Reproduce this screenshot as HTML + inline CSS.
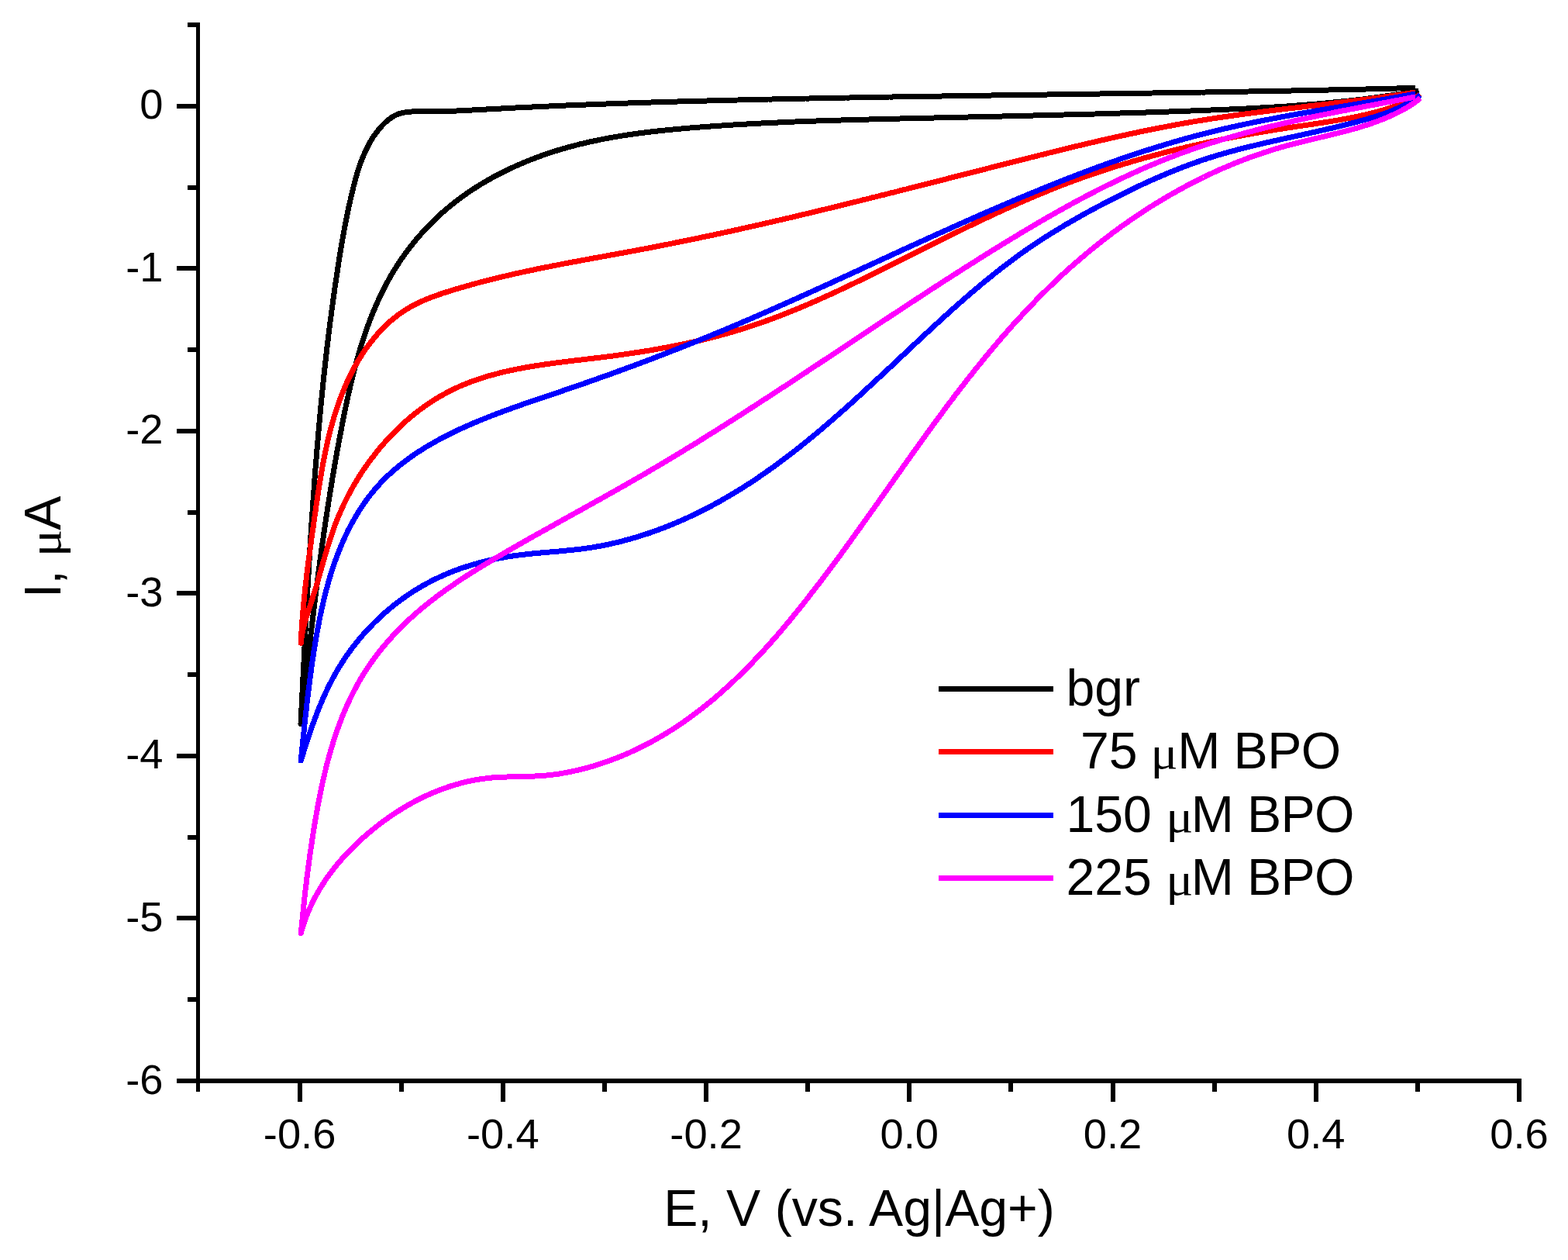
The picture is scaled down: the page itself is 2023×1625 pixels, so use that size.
<!DOCTYPE html>
<html lang="en"><head><meta charset="utf-8"><title>Cyclic voltammograms</title>
<style>
html,body{margin:0;padding:0;background:#fff;}
body{width:2023px;height:1625px;overflow:hidden;}
svg{display:block;}
text{font-family:"Liberation Sans",sans-serif;fill:#000;}
.mu{font-family:"Liberation Serif","DejaVu Serif",serif;}
.tk{font-size:54.3px;}
.tt{font-size:66.2px;}
.lg{font-size:66.2px;}
</style></head><body>
<svg width="2023" height="1625" viewBox="0 0 2023 1625">
<rect width="2023" height="1625" fill="#ffffff"/>

<g fill="none" stroke-linejoin="round" stroke-linecap="butt" shape-rendering="crispEdges">
<path d="M1826.1,113.4 L1822.1,113.5 L1818.1,113.6 L1814.1,113.7 L1810.1,113.8 L1806.1,113.9 L1802.1,114.0 L1798.2,114.1 L1794.2,114.2 L1790.2,114.3 L1786.2,114.4 L1782.2,114.5 L1778.2,114.6 L1774.2,114.7 L1770.2,114.8 L1766.2,114.9 L1762.2,115.0 L1758.2,115.1 L1754.2,115.2 L1750.3,115.2 L1746.3,115.3 L1742.3,115.4 L1738.3,115.5 L1734.3,115.6 L1730.3,115.7 L1726.3,115.8 L1722.3,115.9 L1718.3,115.9 L1714.3,116.0 L1710.3,116.1 L1706.3,116.2 L1702.4,116.3 L1698.4,116.4 L1694.4,116.4 L1690.4,116.5 L1686.4,116.6 L1682.4,116.7 L1678.4,116.8 L1674.4,116.8 L1670.4,116.9 L1666.4,117.0 L1662.4,117.1 L1658.4,117.1 L1654.5,117.2 L1650.5,117.3 L1646.5,117.4 L1642.5,117.4 L1638.5,117.5 L1634.5,117.6 L1630.5,117.7 L1626.5,117.7 L1622.5,117.8 L1618.5,117.9 L1614.5,117.9 L1610.6,118.0 L1606.6,118.1 L1602.6,118.2 L1598.6,118.2 L1594.6,118.3 L1590.6,118.4 L1586.6,118.4 L1582.6,118.5 L1578.6,118.6 L1574.6,118.6 L1570.6,118.7 L1566.6,118.8 L1562.7,118.8 L1558.7,118.9 L1554.7,119.0 L1550.7,119.0 L1546.7,119.1 L1542.7,119.1 L1538.7,119.2 L1534.7,119.3 L1530.7,119.3 L1526.7,119.4 L1522.7,119.5 L1518.7,119.5 L1514.8,119.6 L1510.8,119.6 L1506.8,119.7 L1502.8,119.8 L1498.8,119.8 L1494.8,119.9 L1490.8,119.9 L1486.8,120.0 L1482.8,120.1 L1478.8,120.1 L1474.8,120.2 L1470.8,120.2 L1466.9,120.3 L1462.9,120.4 L1458.9,120.4 L1454.9,120.5 L1450.9,120.5 L1446.9,120.6 L1442.9,120.7 L1438.9,120.7 L1434.9,120.8 L1430.9,120.8 L1426.9,120.9 L1422.9,120.9 L1419.0,121.0 L1415.0,121.1 L1411.0,121.1 L1407.0,121.2 L1403.0,121.2 L1399.0,121.3 L1395.0,121.3 L1391.0,121.4 L1387.0,121.5 L1383.0,121.5 L1379.0,121.6 L1375.0,121.6 L1371.1,121.7 L1367.1,121.7 L1363.1,121.8 L1359.1,121.9 L1355.1,121.9 L1351.1,122.0 L1347.1,122.0 L1343.1,122.1 L1339.1,122.1 L1335.1,122.2 L1331.1,122.2 L1327.1,122.3 L1323.2,122.4 L1319.2,122.4 L1315.2,122.5 L1311.2,122.5 L1307.2,122.6 L1303.2,122.6 L1299.2,122.7 L1295.2,122.8 L1291.2,122.8 L1287.2,122.9 L1283.2,122.9 L1279.2,123.0 L1275.3,123.1 L1271.3,123.1 L1267.3,123.2 L1263.3,123.2 L1259.3,123.3 L1255.3,123.3 L1251.3,123.4 L1247.3,123.5 L1243.3,123.5 L1239.3,123.6 L1235.3,123.6 L1231.3,123.7 L1227.4,123.8 L1223.4,123.8 L1219.4,123.9 L1215.4,124.0 L1211.4,124.0 L1207.4,124.1 L1203.4,124.1 L1199.4,124.2 L1195.4,124.3 L1191.4,124.3 L1187.4,124.4 L1183.4,124.5 L1179.4,124.5 L1175.5,124.6 L1171.5,124.7 L1167.5,124.7 L1163.5,124.8 L1159.5,124.8 L1155.5,124.9 L1151.5,125.0 L1147.5,125.0 L1143.5,125.1 L1139.5,125.2 L1135.5,125.3 L1131.5,125.3 L1127.6,125.4 L1123.6,125.5 L1119.6,125.5 L1115.6,125.6 L1111.6,125.7 L1107.6,125.7 L1103.6,125.8 L1099.6,125.9 L1095.6,126.0 L1091.6,126.0 L1087.6,126.1 L1083.6,126.2 L1079.6,126.3 L1075.7,126.3 L1071.7,126.4 L1067.7,126.5 L1063.7,126.6 L1059.7,126.6 L1055.7,126.7 L1051.7,126.8 L1047.7,126.9 L1043.7,127.0 L1039.7,127.0 L1035.7,127.1 L1031.7,127.2 L1027.7,127.3 L1023.8,127.4 L1019.8,127.4 L1015.8,127.5 L1011.8,127.6 L1007.8,127.7 L1003.8,127.8 L999.8,127.9 L995.8,128.0 L991.8,128.0 L987.8,128.1 L983.8,128.2 L979.8,128.3 L975.8,128.4 L971.9,128.5 L967.9,128.6 L963.9,128.7 L959.9,128.8 L955.9,128.9 L951.9,129.0 L947.9,129.1 L943.9,129.2 L939.9,129.2 L935.9,129.3 L931.9,129.4 L927.9,129.5 L923.9,129.6 L920.0,129.7 L916.0,129.9 L912.0,130.0 L908.0,130.1 L904.0,130.2 L900.0,130.3 L896.0,130.4 L892.0,130.5 L888.0,130.6 L884.0,130.7 L880.0,130.8 L876.0,130.9 L872.0,131.1 L868.1,131.2 L864.1,131.3 L860.1,131.4 L856.1,131.5 L852.1,131.6 L848.1,131.8 L844.1,131.9 L840.1,132.0 L836.1,132.1 L832.1,132.3 L828.1,132.4 L824.2,132.5 L820.2,132.7 L816.2,132.8 L812.2,132.9 L808.2,133.1 L804.2,133.2 L800.2,133.3 L796.2,133.5 L792.2,133.6 L788.3,133.8 L784.3,133.9 L780.3,134.1 L776.3,134.2 L772.3,134.3 L768.3,134.5 L764.3,134.7 L760.3,134.8 L756.4,135.0 L752.4,135.1 L748.4,135.3 L744.4,135.4 L740.4,135.6 L736.4,135.8 L732.4,135.9 L728.4,136.1 L724.5,136.3 L720.5,136.4 L716.5,136.6 L712.5,136.8 L708.5,137.0 L704.5,137.1 L700.6,137.3 L696.6,137.5 L692.6,137.7 L688.6,137.9 L684.6,138.1 L680.6,138.3 L676.7,138.5 L672.7,138.7 L668.7,138.8 L664.7,139.0 L660.7,139.2 L656.7,139.5 L652.8,139.7 L648.8,139.9 L644.8,140.1 L640.8,140.3 L636.8,140.5 L632.9,140.7 L628.9,140.9 L624.9,141.2 L620.9,141.4 L616.9,141.6 L613.0,141.8 L609.0,142.0 L605.0,142.2 L601.0,142.4 L597.0,142.6 L593.0,142.8 L589.1,143.0 L585.1,143.2 L581.1,143.3 L577.1,143.5 L573.1,143.6 L569.1,143.7 L565.0,143.8 L561.0,143.8 L557.0,143.9 L553.0,143.9 L549.0,143.9 L544.9,143.9 L540.9,143.8 L536.9,143.8 L532.9,143.9 L528.9,144.1 L525.0,144.5 L521.2,145.1 L517.4,146.0 L513.7,147.1 L510.2,148.6 L506.8,150.5 L503.5,152.7 L500.3,155.1 L497.2,157.8 L494.3,160.7 L491.5,163.6 L488.9,166.7 L486.4,169.9 L484.0,173.1 L481.7,176.4 L479.5,179.9 L477.5,183.3 L475.5,186.8 L473.7,190.4 L471.9,194.0 L470.3,197.7 L468.7,201.3 L467.2,205.0 L465.8,208.7 L464.4,212.5 L463.1,216.2 L461.9,220.0 L460.7,223.8 L459.6,227.6 L458.5,231.4 L457.5,235.3 L456.5,239.1 L455.5,243.0 L454.6,246.9 L453.7,250.7 L452.8,254.6 L451.9,258.5 L451.0,262.4 L450.1,266.3 L449.3,270.2 L448.5,274.1 L447.7,278.0 L446.9,281.9 L446.1,285.8 L445.4,289.7 L444.6,293.6 L443.9,297.6 L443.2,301.5 L442.5,305.4 L441.8,309.3 L441.1,313.3 L440.4,317.2 L439.8,321.2 L439.1,325.1 L438.5,329.0 L437.8,333.0 L437.2,336.9 L436.6,340.9 L436.0,344.8 L435.4,348.8 L434.8,352.7 L434.2,356.7 L433.6,360.6 L433.0,364.6 L432.4,368.5 L431.8,372.5 L431.3,376.5 L430.7,380.4 L430.2,384.4 L429.6,388.3 L429.1,392.3 L428.5,396.2 L428.0,400.2 L427.5,404.2 L427.0,408.1 L426.4,412.1 L425.9,416.0 L425.4,420.0 L424.9,424.0 L424.4,427.9 L423.9,431.9 L423.5,435.8 L423.0,439.8 L422.5,443.8 L422.0,447.7 L421.6,451.7 L421.1,455.7 L420.7,459.6 L420.2,463.6 L419.8,467.6 L419.3,471.5 L418.9,475.5 L418.5,479.5 L418.0,483.4 L417.6,487.4 L417.2,491.4 L416.8,495.3 L416.4,499.3 L416.0,503.3 L415.6,507.3 L415.2,511.2 L414.8,515.2 L414.4,519.2 L414.0,523.1 L413.6,527.1 L413.3,531.1 L412.9,535.1 L412.5,539.0 L412.2,543.0 L411.8,547.0 L411.4,551.0 L411.1,554.9 L410.7,558.9 L410.4,562.9 L410.1,566.9 L409.7,570.9 L409.4,574.8 L409.1,578.8 L408.7,582.8 L408.4,586.8 L408.1,590.7 L407.8,594.7 L407.5,598.7 L407.1,602.7 L406.8,606.7 L406.5,610.6 L406.2,614.6 L405.9,618.6 L405.6,622.6 L405.3,626.6 L405.1,630.6 L404.8,634.5 L404.5,638.5 L404.2,642.5 L403.9,646.5 L403.6,650.5 L403.4,654.4 L403.1,658.4 L402.8,662.4 L402.6,666.4 L402.3,670.4 L402.0,674.4 L401.8,678.4 L401.5,682.3 L401.3,686.3 L401.0,690.3 L400.8,694.3 L400.5,698.3 L400.3,702.3 L400.0,706.2 L399.8,710.2 L399.6,714.2 L399.3,718.2 L399.1,722.2 L398.8,726.2 L398.6,730.2 L398.4,734.2 L398.2,738.1 L397.9,742.1 L397.7,746.1 L397.5,750.1 L397.2,754.1 L397.0,758.1 L396.8,762.1 L396.6,766.0 L396.4,770.0 L396.2,774.0 L395.9,778.0 L395.7,782.0 L395.5,786.0 L395.3,790.0 L395.1,794.0 L394.9,797.9 L394.7,801.9 L394.5,805.9 L394.3,809.9 L394.0,813.9 L393.8,817.9 L393.6,821.9 L393.4,825.9 L393.2,829.8 L393.0,833.8 L392.8,837.8 L392.6,841.8 L392.4,845.8 L392.2,849.8 L392.0,853.8 L391.8,857.8 L391.6,861.7 L391.4,865.7 L391.2,869.7 L391.0,873.7 L390.8,877.7 L390.6,881.7 L390.4,885.7 L390.2,889.7 L390.0,893.6 L389.8,897.6 L389.6,901.6 L389.4,905.6 L389.2,909.6 L389.0,913.6 L388.8,917.6 L388.6,921.5 L388.4,925.5 L388.2,929.5 L388.0,933.5 L388.4,929.5 L388.9,925.5 L389.3,921.5 L389.8,917.5 L390.2,913.5 L390.7,909.5 L391.1,905.5 L391.6,901.5 L392.0,897.6 L392.5,893.6 L392.9,889.6 L393.3,885.6 L393.8,881.6 L394.2,877.7 L394.7,873.7 L395.1,869.7 L395.6,865.7 L396.0,861.8 L396.5,857.8 L396.9,853.8 L397.4,849.9 L397.8,845.9 L398.3,841.9 L398.7,838.0 L399.2,834.0 L399.7,830.1 L400.1,826.1 L400.6,822.2 L401.0,818.2 L401.5,814.2 L402.0,810.3 L402.5,806.3 L402.9,802.4 L403.4,798.4 L403.9,794.5 L404.3,790.5 L404.8,786.6 L405.3,782.6 L405.8,778.7 L406.3,774.8 L406.8,770.8 L407.3,766.9 L407.8,762.9 L408.3,759.0 L408.8,755.1 L409.3,751.1 L409.8,747.2 L410.3,743.2 L410.8,739.3 L411.3,735.4 L411.8,731.4 L412.4,727.5 L412.9,723.5 L413.4,719.6 L414.0,715.7 L414.5,711.7 L415.0,707.8 L415.6,703.9 L416.1,699.9 L416.7,696.0 L417.3,692.1 L417.8,688.1 L418.4,684.2 L419.0,680.3 L419.6,676.3 L420.1,672.4 L420.7,668.5 L421.3,664.5 L421.9,660.6 L422.5,656.7 L423.1,652.7 L423.7,648.8 L424.4,644.8 L425.0,640.9 L425.6,637.0 L426.2,633.0 L426.9,629.1 L427.5,625.2 L428.2,621.2 L428.8,617.3 L429.5,613.3 L430.2,609.4 L430.8,605.5 L431.5,601.5 L432.2,597.6 L432.9,593.6 L433.6,589.7 L434.3,585.7 L435.0,581.8 L435.7,577.9 L436.5,573.9 L437.2,570.0 L437.9,566.0 L438.7,562.1 L439.4,558.1 L440.2,554.2 L441.0,550.2 L441.7,546.2 L442.5,542.3 L443.3,538.3 L444.1,534.4 L444.9,530.4 L445.7,526.5 L446.6,522.5 L447.4,518.6 L448.3,514.6 L449.1,510.7 L450.0,506.7 L450.9,502.8 L451.8,498.9 L452.7,494.9 L453.7,491.0 L454.6,487.1 L455.6,483.2 L456.6,479.3 L457.6,475.4 L458.6,471.5 L459.7,467.6 L460.7,463.7 L461.8,459.8 L462.9,456.0 L464.1,452.1 L465.2,448.3 L466.4,444.5 L467.6,440.7 L468.9,436.9 L470.1,433.1 L471.4,429.3 L472.7,425.5 L474.0,421.8 L475.4,418.0 L476.8,414.3 L478.2,410.6 L479.7,406.9 L481.1,403.2 L482.7,399.6 L484.2,395.9 L485.8,392.3 L487.4,388.7 L489.0,385.1 L490.7,381.5 L492.4,378.0 L494.2,374.4 L496.0,370.9 L497.8,367.4 L499.6,364.0 L501.5,360.5 L503.5,357.1 L505.4,353.7 L507.5,350.3 L509.5,346.9 L511.6,343.6 L513.8,340.3 L515.9,337.0 L518.1,333.7 L520.4,330.5 L522.7,327.3 L525.0,324.1 L527.4,321.0 L529.8,317.8 L532.3,314.7 L534.8,311.7 L537.3,308.6 L539.9,305.6 L542.5,302.6 L545.1,299.7 L547.8,296.7 L550.5,293.8 L553.2,291.0 L556.0,288.2 L558.8,285.4 L561.7,282.6 L564.6,279.9 L567.5,277.2 L570.4,274.5 L573.4,271.9 L576.5,269.3 L579.5,266.7 L582.6,264.2 L585.7,261.7 L588.9,259.2 L592.1,256.8 L595.3,254.5 L598.5,252.1 L601.8,249.8 L605.1,247.5 L608.4,245.3 L611.8,243.1 L615.2,240.9 L618.6,238.8 L622.0,236.7 L625.4,234.7 L628.9,232.6 L632.4,230.7 L635.9,228.7 L639.5,226.8 L643.0,224.9 L646.6,223.1 L650.2,221.3 L653.8,219.5 L657.4,217.8 L661.1,216.1 L664.8,214.4 L668.4,212.8 L672.1,211.2 L675.8,209.6 L679.6,208.1 L683.3,206.6 L687.1,205.1 L690.8,203.7 L694.6,202.3 L698.4,200.9 L702.2,199.5 L706.0,198.2 L709.8,197.0 L713.6,195.7 L717.4,194.5 L721.3,193.3 L725.1,192.2 L729.0,191.1 L732.8,190.0 L736.7,188.9 L740.6,187.9 L744.4,186.9 L748.3,185.9 L752.2,185.0 L756.1,184.1 L760.0,183.2 L763.9,182.3 L767.8,181.5 L771.7,180.7 L775.6,179.9 L779.5,179.1 L783.4,178.4 L787.3,177.7 L791.2,177.0 L795.2,176.3 L799.1,175.7 L803.0,175.0 L807.0,174.4 L810.9,173.8 L814.8,173.2 L818.8,172.7 L822.7,172.1 L826.7,171.6 L830.6,171.1 L834.6,170.6 L838.6,170.1 L842.5,169.7 L846.5,169.2 L850.4,168.8 L854.4,168.4 L858.4,168.0 L862.3,167.6 L866.3,167.2 L870.3,166.8 L874.3,166.4 L878.2,166.1 L882.2,165.7 L886.2,165.4 L890.2,165.0 L894.1,164.7 L898.1,164.4 L902.1,164.1 L906.1,163.8 L910.0,163.5 L914.0,163.2 L918.0,162.9 L922.0,162.6 L926.0,162.3 L929.9,162.1 L933.9,161.8 L937.9,161.5 L941.9,161.3 L945.9,161.0 L949.8,160.8 L953.8,160.5 L957.8,160.3 L961.8,160.1 L965.8,159.9 L969.8,159.6 L973.8,159.4 L977.7,159.2 L981.7,159.0 L985.7,158.8 L989.7,158.6 L993.7,158.4 L997.7,158.2 L1001.7,158.1 L1005.6,157.9 L1009.6,157.7 L1013.6,157.5 L1017.6,157.4 L1021.6,157.2 L1025.6,157.0 L1029.6,156.9 L1033.6,156.7 L1037.6,156.6 L1041.5,156.4 L1045.5,156.3 L1049.5,156.1 L1053.5,156.0 L1057.5,155.9 L1061.5,155.7 L1065.5,155.6 L1069.5,155.5 L1073.5,155.4 L1077.5,155.2 L1081.5,155.1 L1085.4,155.0 L1089.4,154.9 L1093.4,154.8 L1097.4,154.7 L1101.4,154.5 L1105.4,154.4 L1109.4,154.3 L1113.4,154.2 L1117.4,154.1 L1121.4,154.0 L1125.4,153.9 L1129.4,153.8 L1133.4,153.7 L1137.3,153.6 L1141.3,153.5 L1145.3,153.4 L1149.3,153.3 L1153.3,153.2 L1157.3,153.1 L1161.3,153.0 L1165.3,152.9 L1169.3,152.8 L1173.3,152.8 L1177.3,152.7 L1181.3,152.6 L1185.3,152.5 L1189.3,152.4 L1193.2,152.3 L1197.2,152.2 L1201.2,152.1 L1205.2,152.0 L1209.2,151.9 L1213.2,151.8 L1217.2,151.7 L1221.2,151.6 L1225.2,151.6 L1229.2,151.5 L1233.2,151.4 L1237.2,151.3 L1241.2,151.2 L1245.1,151.1 L1249.1,151.0 L1253.1,150.9 L1257.1,150.8 L1261.1,150.7 L1265.1,150.6 L1269.1,150.5 L1273.1,150.5 L1277.1,150.4 L1281.1,150.3 L1285.1,150.2 L1289.1,150.1 L1293.0,150.0 L1297.0,149.9 L1301.0,149.8 L1305.0,149.7 L1309.0,149.6 L1313.0,149.5 L1317.0,149.4 L1321.0,149.3 L1325.0,149.2 L1329.0,149.1 L1333.0,149.0 L1336.9,148.9 L1340.9,148.8 L1344.9,148.7 L1348.9,148.6 L1352.9,148.5 L1356.9,148.4 L1360.9,148.3 L1364.9,148.2 L1368.9,148.1 L1372.9,148.0 L1376.9,147.9 L1380.8,147.8 L1384.8,147.7 L1388.8,147.6 L1392.8,147.5 L1396.8,147.4 L1400.8,147.3 L1404.8,147.2 L1408.8,147.1 L1412.8,147.0 L1416.8,146.9 L1420.8,146.7 L1424.7,146.6 L1428.7,146.5 L1432.7,146.4 L1436.7,146.3 L1440.7,146.2 L1444.7,146.0 L1448.7,145.9 L1452.7,145.8 L1456.7,145.7 L1460.7,145.6 L1464.6,145.4 L1468.6,145.3 L1472.6,145.2 L1476.6,145.1 L1480.6,144.9 L1484.6,144.8 L1488.6,144.7 L1492.6,144.5 L1496.6,144.4 L1500.6,144.3 L1504.5,144.1 L1508.5,144.0 L1512.5,143.9 L1516.5,143.7 L1520.5,143.6 L1524.5,143.4 L1528.5,143.3 L1532.5,143.1 L1536.5,143.0 L1540.4,142.9 L1544.4,142.7 L1548.4,142.6 L1552.4,142.4 L1556.4,142.2 L1560.4,142.1 L1564.4,141.9 L1568.4,141.8 L1572.4,141.6 L1576.3,141.4 L1580.3,141.3 L1584.3,141.1 L1588.3,140.9 L1592.3,140.7 L1596.3,140.5 L1600.3,140.4 L1604.2,140.2 L1608.2,140.0 L1612.2,139.8 L1616.2,139.6 L1620.2,139.4 L1624.2,139.1 L1628.2,138.9 L1632.1,138.7 L1636.1,138.5 L1640.1,138.2 L1644.1,138.0 L1648.1,137.8 L1652.1,137.5 L1656.0,137.2 L1660.0,137.0 L1664.0,136.7 L1668.0,136.4 L1672.0,136.1 L1675.9,135.8 L1679.9,135.5 L1683.9,135.2 L1687.9,134.9 L1691.8,134.6 L1695.8,134.3 L1699.8,133.9 L1703.8,133.6 L1707.7,133.2 L1711.7,132.9 L1715.7,132.5 L1719.7,132.1 L1723.6,131.7 L1727.6,131.3 L1731.6,130.9 L1735.5,130.5 L1739.5,130.1 L1743.5,129.6 L1747.4,129.2 L1751.4,128.7 L1755.4,128.3 L1759.3,127.8 L1763.3,127.3 L1767.3,126.8 L1771.2,126.3 L1775.2,125.7 L1779.1,125.2 L1783.1,124.7 L1787.0,124.1 L1791.0,123.5 L1795.0,122.9 L1798.9,122.3 L1802.9,121.7 L1806.8,121.1 L1810.8,120.5 L1814.7,119.8 L1818.7,119.2 L1822.6,118.5 L1826.6,117.8 L1830.5,117.1" stroke="#000000" stroke-width="7"/>
<path d="M1826.1,119.0 L1822.2,119.6 L1818.2,120.2 L1814.3,120.8 L1810.3,121.4 L1806.4,122.0 L1802.5,122.6 L1798.5,123.2 L1794.6,123.7 L1790.6,124.3 L1786.7,124.8 L1782.7,125.4 L1778.8,125.9 L1774.8,126.4 L1770.8,126.9 L1766.9,127.5 L1762.9,128.0 L1759.0,128.5 L1755.0,129.0 L1751.0,129.5 L1747.1,130.0 L1743.1,130.5 L1739.2,130.9 L1735.2,131.4 L1731.2,131.9 L1727.3,132.4 L1723.3,132.8 L1719.3,133.3 L1715.4,133.8 L1711.4,134.3 L1707.4,134.7 L1703.5,135.2 L1699.5,135.7 L1695.5,136.1 L1691.6,136.6 L1687.6,137.0 L1683.6,137.5 L1679.7,138.0 L1675.7,138.4 L1671.7,138.9 L1667.8,139.4 L1663.8,139.8 L1659.8,140.3 L1655.9,140.8 L1651.9,141.2 L1647.9,141.7 L1644.0,142.2 L1640.0,142.7 L1636.0,143.2 L1632.1,143.7 L1628.1,144.2 L1624.2,144.7 L1620.2,145.2 L1616.2,145.7 L1612.3,146.2 L1608.3,146.7 L1604.4,147.2 L1600.4,147.8 L1596.4,148.3 L1592.5,148.9 L1588.5,149.4 L1584.6,150.0 L1580.6,150.5 L1576.7,151.1 L1572.7,151.7 L1568.8,152.3 L1564.9,152.9 L1560.9,153.5 L1557.0,154.1 L1553.0,154.7 L1549.1,155.4 L1545.2,156.0 L1541.2,156.7 L1537.3,157.3 L1533.4,158.0 L1529.4,158.7 L1525.5,159.4 L1521.6,160.1 L1517.7,160.8 L1513.7,161.5 L1509.8,162.3 L1505.9,163.0 L1502.0,163.8 L1498.1,164.5 L1494.1,165.3 L1490.2,166.1 L1486.3,166.8 L1482.4,167.6 L1478.5,168.4 L1474.6,169.2 L1470.7,170.0 L1466.8,170.9 L1462.9,171.7 L1459.0,172.5 L1455.1,173.4 L1451.2,174.2 L1447.3,175.1 L1443.4,175.9 L1439.5,176.8 L1435.6,177.7 L1431.7,178.5 L1427.8,179.4 L1423.9,180.3 L1420.0,181.2 L1416.1,182.1 L1412.3,183.0 L1408.4,183.9 L1404.5,184.8 L1400.6,185.7 L1396.7,186.7 L1392.8,187.6 L1388.9,188.5 L1385.1,189.4 L1381.2,190.4 L1377.3,191.3 L1373.4,192.3 L1369.5,193.2 L1365.7,194.2 L1361.8,195.1 L1357.9,196.1 L1354.0,197.0 L1350.2,198.0 L1346.3,199.0 L1342.4,199.9 L1338.5,200.9 L1334.7,201.9 L1330.8,202.8 L1326.9,203.8 L1323.0,204.8 L1319.2,205.8 L1315.3,206.7 L1311.4,207.7 L1307.6,208.7 L1303.7,209.7 L1299.8,210.7 L1295.9,211.7 L1292.1,212.6 L1288.2,213.6 L1284.3,214.6 L1280.5,215.6 L1276.6,216.6 L1272.7,217.6 L1268.9,218.6 L1265.0,219.6 L1261.1,220.5 L1257.2,221.5 L1253.4,222.5 L1249.5,223.5 L1245.6,224.5 L1241.8,225.5 L1237.9,226.5 L1234.0,227.4 L1230.2,228.4 L1226.3,229.4 L1222.4,230.4 L1218.6,231.4 L1214.7,232.4 L1210.8,233.4 L1206.9,234.3 L1203.1,235.3 L1199.2,236.3 L1195.3,237.3 L1191.5,238.3 L1187.6,239.3 L1183.7,240.2 L1179.9,241.2 L1176.0,242.2 L1172.1,243.2 L1168.3,244.2 L1164.4,245.1 L1160.5,246.1 L1156.6,247.1 L1152.8,248.1 L1148.9,249.0 L1145.0,250.0 L1141.2,251.0 L1137.3,251.9 L1133.4,252.9 L1129.5,253.9 L1125.7,254.8 L1121.8,255.8 L1117.9,256.8 L1114.1,257.7 L1110.2,258.7 L1106.3,259.7 L1102.4,260.6 L1098.6,261.6 L1094.7,262.5 L1090.8,263.5 L1086.9,264.4 L1083.1,265.4 L1079.2,266.3 L1075.3,267.3 L1071.4,268.2 L1067.5,269.1 L1063.7,270.1 L1059.8,271.0 L1055.9,272.0 L1052.0,272.9 L1048.1,273.8 L1044.3,274.7 L1040.4,275.7 L1036.5,276.6 L1032.6,277.5 L1028.7,278.4 L1024.9,279.4 L1021.0,280.3 L1017.1,281.2 L1013.2,282.1 L1009.3,283.0 L1005.4,283.9 L1001.5,284.8 L997.7,285.7 L993.8,286.6 L989.9,287.5 L986.0,288.4 L982.1,289.3 L978.2,290.2 L974.3,291.0 L970.4,291.9 L966.5,292.8 L962.6,293.7 L958.7,294.5 L954.8,295.4 L950.9,296.3 L947.1,297.1 L943.2,298.0 L939.3,298.8 L935.4,299.7 L931.5,300.5 L927.6,301.4 L923.7,302.2 L919.8,303.1 L915.8,303.9 L911.9,304.7 L908.0,305.5 L904.1,306.4 L900.2,307.2 L896.3,308.0 L892.4,308.8 L888.5,309.6 L884.6,310.4 L880.7,311.2 L876.8,312.0 L872.9,312.8 L868.9,313.6 L865.0,314.4 L861.1,315.2 L857.2,315.9 L853.3,316.7 L849.4,317.5 L845.4,318.2 L841.5,319.0 L837.6,319.8 L833.7,320.5 L829.7,321.3 L825.8,322.0 L821.9,322.7 L818.0,323.5 L814.0,324.2 L810.1,324.9 L806.2,325.7 L802.2,326.4 L798.3,327.1 L794.4,327.8 L790.5,328.5 L786.5,329.2 L782.6,330.0 L778.7,330.7 L774.7,331.4 L770.8,332.1 L766.9,332.8 L762.9,333.6 L759.0,334.3 L755.1,335.0 L751.1,335.7 L747.2,336.5 L743.3,337.2 L739.3,337.9 L735.4,338.7 L731.5,339.4 L727.6,340.1 L723.6,340.9 L719.7,341.7 L715.8,342.4 L711.9,343.2 L707.9,344.0 L704.0,344.7 L700.1,345.5 L696.2,346.3 L692.3,347.1 L688.4,348.0 L684.5,348.8 L680.6,349.6 L676.6,350.4 L672.7,351.3 L668.8,352.2 L664.9,353.0 L661.0,353.9 L657.1,354.8 L653.3,355.7 L649.4,356.6 L645.5,357.5 L641.6,358.5 L637.7,359.4 L633.8,360.4 L630.0,361.4 L626.1,362.4 L622.2,363.4 L618.3,364.4 L614.5,365.4 L610.6,366.5 L606.8,367.6 L602.9,368.6 L599.1,369.7 L595.2,370.9 L591.4,372.0 L587.5,373.1 L583.7,374.3 L579.9,375.5 L576.0,376.7 L572.2,377.9 L568.4,379.2 L564.6,380.5 L560.9,381.8 L557.1,383.2 L553.4,384.6 L549.7,386.1 L546.1,387.7 L542.4,389.3 L538.9,391.0 L535.3,392.7 L531.9,394.5 L528.4,396.5 L525.1,398.5 L521.7,400.6 L518.5,402.7 L515.3,405.0 L512.1,407.3 L509.1,409.8 L506.0,412.3 L503.0,414.8 L500.1,417.5 L497.3,420.2 L494.5,422.9 L491.7,425.8 L489.0,428.7 L486.4,431.6 L483.8,434.6 L481.3,437.7 L478.8,440.8 L476.4,444.0 L474.0,447.2 L471.7,450.4 L469.4,453.7 L467.2,457.0 L465.1,460.4 L463.0,463.8 L460.9,467.2 L459.0,470.7 L457.0,474.2 L455.1,477.7 L453.3,481.2 L451.5,484.7 L449.8,488.3 L448.1,491.9 L446.5,495.6 L444.9,499.2 L443.4,502.9 L441.9,506.6 L440.4,510.3 L439.0,514.0 L437.6,517.7 L436.3,521.5 L435.0,525.3 L433.7,529.1 L432.5,532.9 L431.3,536.7 L430.2,540.6 L429.1,544.4 L428.0,548.3 L426.9,552.2 L425.9,556.1 L424.9,560.0 L424.0,563.9 L423.0,567.8 L422.1,571.8 L421.3,575.7 L420.4,579.7 L419.6,583.6 L418.8,587.6 L418.0,591.6 L417.2,595.6 L416.5,599.5 L415.7,603.5 L415.0,607.5 L414.3,611.5 L413.7,615.5 L413.0,619.5 L412.4,623.5 L411.7,627.5 L411.1,631.5 L410.5,635.5 L409.9,639.5 L409.3,643.5 L408.7,647.5 L408.1,651.5 L407.5,655.4 L407.0,659.4 L406.4,663.4 L405.8,667.4 L405.3,671.3 L404.7,675.3 L404.2,679.2 L403.6,683.1 L403.0,687.1 L402.5,691.0 L401.9,694.9 L401.4,698.8 L400.8,702.7 L400.3,706.6 L399.8,710.6 L399.3,714.5 L398.7,718.4 L398.2,722.3 L397.7,726.2 L397.2,730.1 L396.7,734.0 L396.2,737.9 L395.7,741.8 L395.3,745.7 L394.8,749.6 L394.4,753.5 L393.9,757.4 L393.5,761.4 L393.1,765.3 L392.7,769.2 L392.3,773.2 L391.9,777.1 L391.5,781.1 L391.2,785.0 L390.8,789.0 L390.5,793.0 L390.2,797.0 L389.9,801.0 L389.6,805.0 L389.4,809.0 L389.1,813.0 L388.9,817.1 L388.7,821.1 L388.5,825.2 L388.3,829.3 L388.7,825.4 L389.2,821.4 L389.9,817.5 L390.7,813.6 L391.5,809.7 L392.5,805.8 L393.5,802.0 L394.7,798.1 L395.8,794.2 L397.0,790.4 L398.3,786.5 L399.5,782.7 L400.8,778.8 L402.0,775.0 L403.3,771.1 L404.5,767.3 L405.7,763.5 L406.9,759.6 L408.1,755.8 L409.2,752.0 L410.3,748.1 L411.4,744.3 L412.5,740.5 L413.6,736.7 L414.7,732.9 L415.8,729.1 L416.9,725.3 L418.0,721.5 L419.1,717.7 L420.2,713.9 L421.3,710.1 L422.5,706.3 L423.6,702.6 L424.8,698.8 L426.0,695.1 L427.3,691.3 L428.5,687.6 L429.8,683.9 L431.2,680.2 L432.5,676.4 L434.0,672.7 L435.4,669.1 L436.9,665.4 L438.5,661.7 L440.1,658.1 L441.7,654.4 L443.4,650.8 L445.2,647.2 L447.0,643.6 L448.8,640.0 L450.7,636.4 L452.6,632.9 L454.6,629.3 L456.6,625.8 L458.6,622.3 L460.7,618.9 L462.8,615.4 L465.0,612.0 L467.2,608.6 L469.5,605.2 L471.8,601.9 L474.1,598.6 L476.5,595.3 L478.9,592.0 L481.4,588.8 L483.9,585.6 L486.4,582.4 L488.9,579.2 L491.5,576.1 L494.2,573.0 L496.9,570.0 L499.6,567.0 L502.3,564.0 L505.1,561.1 L507.9,558.2 L510.8,555.3 L513.6,552.5 L516.6,549.7 L519.5,547.0 L522.5,544.3 L525.5,541.6 L528.5,539.0 L531.6,536.5 L534.7,533.9 L537.9,531.5 L541.0,529.0 L544.2,526.7 L547.4,524.3 L550.7,522.1 L554.0,519.8 L557.3,517.7 L560.6,515.5 L564.0,513.5 L567.4,511.4 L570.8,509.5 L574.2,507.6 L577.7,505.7 L581.2,503.9 L584.7,502.2 L588.2,500.5 L591.8,498.9 L595.3,497.3 L599.0,495.8 L602.6,494.4 L606.2,492.9 L609.9,491.6 L613.6,490.3 L617.3,489.0 L621.0,487.8 L624.7,486.6 L628.5,485.4 L632.3,484.3 L636.1,483.3 L639.9,482.3 L643.7,481.3 L647.6,480.3 L651.4,479.4 L655.3,478.5 L659.2,477.7 L663.0,476.8 L667.0,476.0 L670.9,475.3 L674.8,474.5 L678.7,473.8 L682.7,473.1 L686.6,472.5 L690.6,471.8 L694.6,471.2 L698.6,470.6 L702.5,470.0 L706.5,469.5 L710.5,468.9 L714.5,468.4 L718.5,467.8 L722.6,467.3 L726.6,466.8 L730.6,466.3 L734.6,465.8 L738.6,465.3 L742.7,464.8 L746.7,464.4 L750.7,463.9 L754.8,463.4 L758.8,462.9 L762.8,462.5 L766.8,462.0 L770.8,461.5 L774.9,461.0 L778.9,460.5 L782.9,460.0 L786.9,459.5 L790.9,459.0 L794.9,458.4 L798.9,457.9 L802.9,457.3 L806.9,456.8 L810.8,456.2 L814.8,455.6 L818.8,455.0 L822.7,454.4 L826.7,453.8 L830.6,453.2 L834.6,452.5 L838.5,451.9 L842.5,451.2 L846.4,450.5 L850.4,449.8 L854.3,449.1 L858.2,448.4 L862.1,447.7 L866.0,446.9 L869.9,446.2 L873.8,445.4 L877.7,444.6 L881.6,443.8 L885.5,443.0 L889.4,442.1 L893.3,441.3 L897.1,440.4 L901.0,439.5 L904.9,438.6 L908.7,437.7 L912.6,436.7 L916.4,435.8 L920.2,434.8 L924.1,433.8 L927.9,432.8 L931.7,431.8 L935.5,430.7 L939.3,429.7 L943.1,428.6 L946.9,427.5 L950.7,426.3 L954.5,425.2 L958.3,424.0 L962.1,422.8 L965.9,421.6 L969.6,420.4 L973.4,419.1 L977.1,417.8 L980.9,416.6 L984.6,415.2 L988.4,413.9 L992.1,412.6 L995.8,411.2 L999.6,409.8 L1003.3,408.4 L1007.0,407.0 L1010.7,405.5 L1014.4,404.1 L1018.1,402.6 L1021.8,401.1 L1025.5,399.6 L1029.2,398.1 L1032.8,396.6 L1036.5,395.0 L1040.2,393.5 L1043.9,391.9 L1047.5,390.3 L1051.2,388.7 L1054.9,387.1 L1058.5,385.5 L1062.2,383.8 L1065.8,382.2 L1069.5,380.5 L1073.1,378.9 L1076.7,377.2 L1080.4,375.5 L1084.0,373.8 L1087.6,372.1 L1091.3,370.4 L1094.9,368.7 L1098.5,366.9 L1102.1,365.2 L1105.7,363.5 L1109.3,361.7 L1113.0,360.0 L1116.6,358.2 L1120.2,356.4 L1123.8,354.6 L1127.4,352.9 L1131.0,351.1 L1134.6,349.3 L1138.2,347.5 L1141.8,345.7 L1145.4,343.9 L1149.0,342.1 L1152.6,340.3 L1156.1,338.5 L1159.7,336.7 L1163.3,334.9 L1166.9,333.1 L1170.5,331.3 L1174.1,329.5 L1177.7,327.7 L1181.2,325.9 L1184.8,324.1 L1188.4,322.3 L1192.0,320.5 L1195.6,318.7 L1199.2,316.9 L1202.7,315.1 L1206.3,313.3 L1209.9,311.5 L1213.5,309.8 L1217.1,308.0 L1220.7,306.2 L1224.2,304.4 L1227.8,302.7 L1231.4,300.9 L1235.0,299.1 L1238.6,297.4 L1242.2,295.6 L1245.8,293.9 L1249.4,292.1 L1253.0,290.4 L1256.6,288.7 L1260.2,287.0 L1263.8,285.2 L1267.4,283.5 L1271.0,281.8 L1274.6,280.1 L1278.2,278.4 L1281.8,276.7 L1285.4,275.1 L1289.0,273.4 L1292.7,271.7 L1296.3,270.1 L1299.9,268.5 L1303.5,266.8 L1307.2,265.2 L1310.8,263.6 L1314.5,262.0 L1318.1,260.4 L1321.7,258.8 L1325.4,257.2 L1329.1,255.6 L1332.7,254.1 L1336.4,252.5 L1340.1,251.0 L1343.7,249.5 L1347.4,248.0 L1351.1,246.5 L1354.8,245.0 L1358.5,243.5 L1362.2,242.0 L1365.9,240.6 L1369.6,239.1 L1373.3,237.7 L1377.0,236.3 L1380.8,234.9 L1384.5,233.5 L1388.2,232.1 L1392.0,230.8 L1395.7,229.4 L1399.5,228.1 L1403.3,226.7 L1407.0,225.4 L1410.8,224.1 L1414.6,222.9 L1418.4,221.6 L1422.1,220.3 L1425.9,219.1 L1429.7,217.9 L1433.5,216.6 L1437.3,215.4 L1441.2,214.2 L1445.0,213.1 L1448.8,211.9 L1452.6,210.7 L1456.5,209.6 L1460.3,208.4 L1464.1,207.3 L1468.0,206.2 L1471.8,205.1 L1475.7,204.0 L1479.5,203.0 L1483.4,201.9 L1487.2,200.8 L1491.1,199.8 L1495.0,198.8 L1498.8,197.8 L1502.7,196.8 L1506.6,195.8 L1510.5,194.8 L1514.4,193.8 L1518.3,192.9 L1522.2,191.9 L1526.1,191.0 L1529.9,190.0 L1533.9,189.1 L1537.8,188.2 L1541.7,187.3 L1545.6,186.5 L1549.5,185.6 L1553.4,184.7 L1557.3,183.9 L1561.2,183.0 L1565.1,182.2 L1569.1,181.4 L1573.0,180.6 L1576.9,179.8 L1580.8,179.0 L1584.8,178.2 L1588.7,177.4 L1592.6,176.7 L1596.6,175.9 L1600.5,175.2 L1604.4,174.4 L1608.4,173.7 L1612.3,173.0 L1616.3,172.3 L1620.2,171.6 L1624.1,170.9 L1628.1,170.2 L1632.0,169.6 L1636.0,168.9 L1639.9,168.3 L1643.9,167.6 L1647.8,167.0 L1651.8,166.4 L1655.7,165.8 L1659.7,165.2 L1663.6,164.6 L1667.5,164.0 L1671.5,163.4 L1675.4,162.8 L1679.4,162.2 L1683.3,161.7 L1687.3,161.1 L1691.2,160.5 L1695.1,159.9 L1699.1,159.3 L1703.0,158.7 L1707.0,158.1 L1710.9,157.5 L1714.8,156.9 L1718.7,156.2 L1722.7,155.6 L1726.6,154.9 L1730.5,154.2 L1734.4,153.5 L1738.3,152.8 L1742.2,152.0 L1746.1,151.3 L1750.0,150.5 L1753.9,149.6 L1757.8,148.8 L1761.6,147.9 L1765.5,147.0 L1769.4,146.0 L1773.2,145.0 L1777.1,144.0 L1780.9,142.9 L1784.7,141.8 L1788.6,140.7 L1792.4,139.5 L1796.2,138.3 L1800.0,137.0 L1803.8,135.7 L1807.6,134.3 L1811.4,132.9 L1815.1,131.4 L1818.8,129.8 L1822.3,128.0 L1825.7,126.1 L1829.0,123.9 L1832.0,121.5" stroke="#ff0000" stroke-width="7"/>
<path d="M1826.1,121.0 L1822.2,121.7 L1818.3,122.4 L1814.4,123.2 L1810.4,123.9 L1806.5,124.6 L1802.6,125.3 L1798.7,125.9 L1794.7,126.6 L1790.8,127.3 L1786.9,128.0 L1782.9,128.7 L1779.0,129.3 L1775.1,130.0 L1771.1,130.7 L1767.2,131.4 L1763.2,132.0 L1759.3,132.7 L1755.4,133.3 L1751.4,134.0 L1747.5,134.7 L1743.5,135.3 L1739.6,136.0 L1735.6,136.6 L1731.7,137.3 L1727.7,138.0 L1723.8,138.6 L1719.8,139.3 L1715.9,139.9 L1711.9,140.6 L1708.0,141.3 L1704.0,141.9 L1700.1,142.6 L1696.1,143.3 L1692.2,144.0 L1688.2,144.6 L1684.3,145.3 L1680.3,146.0 L1676.4,146.7 L1672.4,147.4 L1668.5,148.1 L1664.5,148.8 L1660.6,149.5 L1656.6,150.3 L1652.7,151.0 L1648.8,151.7 L1644.8,152.5 L1640.9,153.2 L1636.9,154.0 L1633.0,154.7 L1629.1,155.5 L1625.2,156.3 L1621.2,157.1 L1617.3,157.9 L1613.4,158.7 L1609.5,159.5 L1605.5,160.3 L1601.6,161.2 L1597.7,162.0 L1593.8,162.9 L1589.9,163.7 L1586.0,164.6 L1582.1,165.5 L1578.2,166.4 L1574.3,167.3 L1570.4,168.2 L1566.5,169.2 L1562.7,170.1 L1558.8,171.1 L1554.9,172.1 L1551.0,173.1 L1547.2,174.1 L1543.3,175.1 L1539.4,176.1 L1535.6,177.2 L1531.7,178.2 L1527.9,179.3 L1524.0,180.4 L1520.2,181.4 L1516.4,182.6 L1512.5,183.7 L1508.7,184.8 L1504.9,185.9 L1501.0,187.1 L1497.2,188.3 L1493.4,189.4 L1489.6,190.6 L1485.8,191.8 L1482.0,193.0 L1478.2,194.2 L1474.4,195.5 L1470.6,196.7 L1466.8,197.9 L1463.0,199.2 L1459.2,200.5 L1455.4,201.7 L1451.6,203.0 L1447.9,204.3 L1444.1,205.6 L1440.3,207.0 L1436.5,208.3 L1432.8,209.6 L1429.0,211.0 L1425.2,212.3 L1421.5,213.7 L1417.7,215.0 L1414.0,216.4 L1410.2,217.8 L1406.5,219.2 L1402.7,220.6 L1399.0,222.0 L1395.3,223.4 L1391.5,224.8 L1387.8,226.3 L1384.1,227.7 L1380.3,229.1 L1376.6,230.6 L1372.9,232.1 L1369.2,233.5 L1365.5,235.0 L1361.7,236.5 L1358.0,238.0 L1354.3,239.4 L1350.6,240.9 L1346.9,242.4 L1343.2,243.9 L1339.5,245.5 L1335.8,247.0 L1332.1,248.5 L1328.4,250.0 L1324.7,251.6 L1321.0,253.1 L1317.3,254.6 L1313.7,256.2 L1310.0,257.7 L1306.3,259.3 L1302.6,260.9 L1298.9,262.4 L1295.3,264.0 L1291.6,265.6 L1287.9,267.2 L1284.2,268.7 L1280.6,270.3 L1276.9,271.9 L1273.2,273.5 L1269.6,275.1 L1265.9,276.7 L1262.2,278.3 L1258.6,279.9 L1254.9,281.5 L1251.3,283.2 L1247.6,284.8 L1244.0,286.4 L1240.3,288.0 L1236.7,289.7 L1233.0,291.3 L1229.4,292.9 L1225.7,294.6 L1222.1,296.2 L1218.4,297.8 L1214.8,299.5 L1211.1,301.1 L1207.5,302.8 L1203.8,304.4 L1200.2,306.1 L1196.5,307.7 L1192.9,309.4 L1189.3,311.1 L1185.6,312.7 L1182.0,314.4 L1178.4,316.0 L1174.7,317.7 L1171.1,319.4 L1167.4,321.0 L1163.8,322.7 L1160.2,324.4 L1156.5,326.0 L1152.9,327.7 L1149.3,329.4 L1145.6,331.1 L1142.0,332.7 L1138.4,334.4 L1134.7,336.1 L1131.1,337.7 L1127.5,339.4 L1123.8,341.1 L1120.2,342.8 L1116.6,344.4 L1112.9,346.1 L1109.3,347.8 L1105.7,349.5 L1102.0,351.1 L1098.4,352.8 L1094.8,354.5 L1091.1,356.1 L1087.5,357.8 L1083.9,359.5 L1080.2,361.1 L1076.6,362.8 L1072.9,364.5 L1069.3,366.1 L1065.7,367.8 L1062.0,369.4 L1058.4,371.1 L1054.8,372.7 L1051.1,374.4 L1047.5,376.0 L1043.8,377.7 L1040.2,379.3 L1036.5,381.0 L1032.9,382.6 L1029.2,384.3 L1025.6,385.9 L1021.9,387.5 L1018.3,389.2 L1014.6,390.8 L1011.0,392.4 L1007.3,394.0 L1003.7,395.7 L1000.0,397.3 L996.4,398.9 L992.7,400.5 L989.1,402.1 L985.4,403.7 L981.7,405.3 L978.1,406.9 L974.4,408.5 L970.7,410.1 L967.1,411.7 L963.4,413.2 L959.7,414.8 L956.1,416.4 L952.4,418.0 L948.7,419.5 L945.0,421.1 L941.3,422.6 L937.7,424.2 L934.0,425.7 L930.3,427.3 L926.6,428.8 L922.9,430.3 L919.2,431.8 L915.5,433.4 L911.8,434.9 L908.1,436.4 L904.4,437.9 L900.7,439.4 L897.0,440.9 L893.3,442.3 L889.6,443.8 L885.9,445.3 L882.2,446.8 L878.4,448.2 L874.7,449.7 L871.0,451.2 L867.3,452.6 L863.6,454.1 L859.8,455.5 L856.1,456.9 L852.4,458.4 L848.7,459.8 L844.9,461.2 L841.2,462.7 L837.4,464.1 L833.7,465.5 L830.0,466.9 L826.2,468.3 L822.5,469.7 L818.7,471.1 L815.0,472.5 L811.2,473.9 L807.5,475.2 L803.7,476.6 L800.0,478.0 L796.2,479.3 L792.5,480.7 L788.7,482.1 L785.0,483.4 L781.2,484.8 L777.4,486.1 L773.7,487.4 L769.9,488.8 L766.1,490.1 L762.4,491.4 L758.6,492.8 L754.8,494.1 L751.0,495.4 L747.3,496.7 L743.5,498.0 L739.7,499.3 L735.9,500.6 L732.1,501.9 L728.3,503.2 L724.6,504.5 L720.8,505.8 L717.0,507.1 L713.2,508.3 L709.4,509.6 L705.6,510.9 L701.8,512.2 L698.0,513.5 L694.2,514.7 L690.4,516.0 L686.7,517.3 L682.9,518.6 L679.1,519.9 L675.3,521.2 L671.5,522.6 L667.7,523.9 L663.9,525.2 L660.2,526.6 L656.4,528.0 L652.6,529.3 L648.8,530.7 L645.1,532.1 L641.3,533.5 L637.5,535.0 L633.8,536.4 L630.0,537.9 L626.3,539.4 L622.5,540.9 L618.8,542.4 L615.0,544.0 L611.3,545.5 L607.6,547.1 L603.9,548.8 L600.2,550.4 L596.5,552.1 L592.8,553.7 L589.2,555.5 L585.5,557.2 L581.9,559.0 L578.3,560.8 L574.7,562.6 L571.2,564.4 L567.6,566.3 L564.1,568.2 L560.6,570.2 L557.1,572.2 L553.7,574.2 L550.2,576.2 L546.8,578.3 L543.5,580.4 L540.1,582.6 L536.8,584.7 L533.5,587.0 L530.3,589.2 L527.1,591.5 L523.9,593.9 L520.8,596.2 L517.7,598.6 L514.6,601.1 L511.6,603.6 L508.6,606.1 L505.6,608.7 L502.7,611.4 L499.9,614.0 L497.1,616.8 L494.3,619.5 L491.6,622.3 L488.9,625.2 L486.3,628.1 L483.7,631.1 L481.2,634.1 L478.7,637.1 L476.3,640.3 L473.9,643.4 L471.6,646.6 L469.3,649.8 L467.1,653.1 L464.9,656.4 L462.8,659.8 L460.7,663.1 L458.6,666.6 L456.7,670.0 L454.7,673.5 L452.8,677.0 L450.9,680.6 L449.1,684.1 L447.4,687.7 L445.6,691.4 L443.9,695.0 L442.3,698.7 L440.7,702.4 L439.2,706.1 L437.6,709.8 L436.2,713.6 L434.7,717.3 L433.3,721.1 L432.0,724.9 L430.6,728.7 L429.4,732.5 L428.1,736.3 L426.9,740.2 L425.7,744.0 L424.6,747.9 L423.5,751.8 L422.4,755.7 L421.3,759.6 L420.3,763.5 L419.3,767.4 L418.3,771.3 L417.4,775.2 L416.5,779.2 L415.6,783.1 L414.7,787.1 L413.9,791.0 L413.0,795.0 L412.2,798.9 L411.5,802.9 L410.7,806.8 L410.0,810.8 L409.2,814.8 L408.5,818.7 L407.8,822.7 L407.2,826.7 L406.5,830.6 L405.9,834.6 L405.2,838.5 L404.6,842.5 L404.0,846.4 L403.4,850.4 L402.8,854.3 L402.3,858.3 L401.7,862.2 L401.2,866.2 L400.6,870.1 L400.1,874.1 L399.6,878.0 L399.1,882.0 L398.6,885.9 L398.1,889.9 L397.6,893.8 L397.1,897.8 L396.7,901.7 L396.2,905.6 L395.7,909.6 L395.3,913.5 L394.9,917.5 L394.4,921.4 L394.0,925.4 L393.6,929.4 L393.1,933.3 L392.7,937.3 L392.3,941.2 L391.9,945.2 L391.5,949.2 L391.0,953.1 L390.6,957.1 L390.2,961.1 L389.8,965.1 L389.4,969.0 L389.0,973.0 L388.6,977.0 L388.2,981.0 L389.4,977.2 L390.6,973.4 L391.8,969.6 L393.0,965.8 L394.2,962.0 L395.4,958.2 L396.7,954.4 L397.9,950.6 L399.2,946.9 L400.5,943.1 L401.8,939.3 L403.1,935.5 L404.5,931.8 L405.9,928.0 L407.3,924.2 L408.7,920.5 L410.1,916.8 L411.6,913.1 L413.1,909.4 L414.7,905.7 L416.2,902.0 L417.9,898.4 L419.5,894.7 L421.2,891.1 L422.9,887.5 L424.7,883.9 L426.5,880.4 L428.3,876.8 L430.2,873.3 L432.1,869.8 L434.1,866.4 L436.1,862.9 L438.2,859.5 L440.3,856.1 L442.5,852.8 L444.7,849.4 L446.9,846.1 L449.2,842.9 L451.6,839.6 L453.9,836.4 L456.4,833.2 L458.8,830.1 L461.3,827.0 L463.9,823.9 L466.5,820.8 L469.1,817.8 L471.8,814.8 L474.5,811.9 L477.2,809.0 L480.0,806.1 L482.8,803.2 L485.7,800.4 L488.6,797.7 L491.5,794.9 L494.4,792.2 L497.4,789.6 L500.5,787.0 L503.5,784.4 L506.6,781.9 L509.7,779.4 L512.9,777.0 L516.1,774.6 L519.3,772.2 L522.6,769.9 L525.9,767.6 L529.2,765.4 L532.5,763.2 L535.9,761.1 L539.3,759.0 L542.7,757.0 L546.1,755.0 L549.6,753.0 L553.1,751.2 L556.7,749.3 L560.2,747.5 L563.8,745.8 L567.4,744.1 L571.0,742.5 L574.7,740.9 L578.3,739.3 L582.0,737.8 L585.7,736.4 L589.4,735.0 L593.2,733.6 L596.9,732.3 L600.7,731.1 L604.5,729.9 L608.3,728.7 L612.1,727.6 L616.0,726.5 L619.8,725.4 L623.7,724.4 L627.6,723.5 L631.4,722.6 L635.3,721.7 L639.2,720.9 L643.1,720.1 L647.1,719.4 L651.0,718.7 L654.9,718.0 L658.9,717.4 L662.8,716.8 L666.8,716.3 L670.7,715.8 L674.7,715.3 L678.6,714.9 L682.6,714.4 L686.6,714.0 L690.5,713.7 L694.5,713.3 L698.5,712.9 L702.4,712.6 L706.4,712.2 L710.4,711.9 L714.4,711.6 L718.3,711.2 L722.3,710.9 L726.3,710.5 L730.2,710.1 L734.2,709.7 L738.2,709.3 L742.1,708.9 L746.1,708.4 L750.0,708.0 L754.0,707.4 L757.9,706.9 L761.9,706.3 L765.8,705.7 L769.7,705.0 L773.7,704.3 L777.6,703.6 L781.5,702.8 L785.4,702.0 L789.3,701.1 L793.2,700.2 L797.1,699.3 L801.0,698.3 L804.8,697.3 L808.7,696.3 L812.6,695.2 L816.4,694.1 L820.2,693.0 L824.1,691.8 L827.9,690.6 L831.7,689.4 L835.5,688.2 L839.3,686.9 L843.1,685.5 L846.9,684.2 L850.6,682.8 L854.4,681.4 L858.1,679.9 L861.9,678.5 L865.6,677.0 L869.3,675.4 L873.0,673.9 L876.7,672.3 L880.4,670.7 L884.0,669.0 L887.7,667.4 L891.3,665.7 L894.9,664.0 L898.6,662.2 L902.2,660.5 L905.8,658.7 L909.3,656.9 L912.9,655.0 L916.4,653.2 L920.0,651.3 L923.5,649.4 L927.0,647.5 L930.5,645.5 L933.9,643.5 L937.4,641.5 L940.9,639.5 L944.3,637.5 L947.7,635.5 L951.1,633.4 L954.5,631.3 L957.9,629.2 L961.2,627.1 L964.6,624.9 L967.9,622.8 L971.2,620.6 L974.5,618.4 L977.8,616.2 L981.1,613.9 L984.4,611.7 L987.7,609.4 L990.9,607.1 L994.1,604.8 L997.4,602.5 L1000.6,600.2 L1003.8,597.8 L1007.0,595.5 L1010.2,593.1 L1013.4,590.7 L1016.5,588.3 L1019.7,585.9 L1022.8,583.5 L1026.0,581.0 L1029.1,578.6 L1032.2,576.1 L1035.3,573.6 L1038.4,571.1 L1041.5,568.6 L1044.6,566.1 L1047.7,563.6 L1050.7,561.1 L1053.8,558.5 L1056.9,556.0 L1059.9,553.4 L1062.9,550.8 L1066.0,548.2 L1069.0,545.6 L1072.0,543.0 L1075.0,540.4 L1078.0,537.8 L1081.0,535.1 L1084.0,532.5 L1087.0,529.9 L1090.0,527.2 L1093.0,524.5 L1096.0,521.9 L1099.0,519.2 L1101.9,516.5 L1104.9,513.8 L1107.8,511.2 L1110.8,508.5 L1113.8,505.8 L1116.7,503.0 L1119.6,500.3 L1122.6,497.6 L1125.5,494.9 L1128.5,492.2 L1131.4,489.5 L1134.3,486.7 L1137.3,484.0 L1140.2,481.3 L1143.1,478.5 L1146.0,475.8 L1149.0,473.1 L1151.9,470.3 L1154.8,467.6 L1157.7,464.8 L1160.7,462.1 L1163.6,459.3 L1166.5,456.6 L1169.4,453.9 L1172.3,451.1 L1175.3,448.4 L1178.2,445.6 L1181.1,442.9 L1184.0,440.2 L1187.0,437.4 L1189.9,434.7 L1192.8,432.0 L1195.8,429.2 L1198.7,426.5 L1201.6,423.8 L1204.6,421.1 L1207.5,418.4 L1210.5,415.7 L1213.4,413.0 L1216.4,410.3 L1219.3,407.6 L1222.3,404.9 L1225.3,402.2 L1228.2,399.6 L1231.2,396.9 L1234.2,394.2 L1237.2,391.6 L1240.2,389.0 L1243.2,386.3 L1246.2,383.7 L1249.2,381.1 L1252.2,378.5 L1255.3,375.9 L1258.3,373.3 L1261.3,370.8 L1264.4,368.2 L1267.5,365.6 L1270.5,363.1 L1273.6,360.6 L1276.7,358.1 L1279.8,355.6 L1282.9,353.1 L1286.0,350.6 L1289.2,348.2 L1292.3,345.7 L1295.4,343.3 L1298.6,340.9 L1301.8,338.5 L1305.0,336.1 L1308.1,333.7 L1311.4,331.4 L1314.6,329.0 L1317.8,326.7 L1321.0,324.4 L1324.3,322.1 L1327.6,319.9 L1330.9,317.6 L1334.1,315.4 L1337.5,313.2 L1340.8,311.0 L1344.1,308.8 L1347.5,306.6 L1350.8,304.5 L1354.2,302.4 L1357.6,300.3 L1361.0,298.2 L1364.4,296.1 L1367.8,294.0 L1371.2,292.0 L1374.6,289.9 L1378.1,287.9 L1381.5,285.9 L1385.0,283.9 L1388.5,281.9 L1391.9,280.0 L1395.4,278.0 L1398.9,276.1 L1402.4,274.1 L1405.9,272.2 L1409.4,270.3 L1413.0,268.4 L1416.5,266.5 L1420.0,264.7 L1423.6,262.8 L1427.1,261.0 L1430.7,259.1 L1434.2,257.3 L1437.8,255.5 L1441.4,253.7 L1444.9,251.9 L1448.5,250.1 L1452.1,248.3 L1455.7,246.5 L1459.3,244.8 L1462.9,243.0 L1466.5,241.3 L1470.1,239.6 L1473.7,237.9 L1477.4,236.2 L1481.0,234.6 L1484.6,232.9 L1488.3,231.3 L1491.9,229.7 L1495.6,228.1 L1499.3,226.5 L1502.9,225.0 L1506.6,223.4 L1510.3,221.9 L1514.0,220.4 L1517.7,218.9 L1521.4,217.4 L1525.1,216.0 L1528.8,214.6 L1532.6,213.2 L1536.3,211.8 L1540.1,210.5 L1543.8,209.1 L1547.6,207.8 L1551.4,206.5 L1555.1,205.3 L1558.9,204.0 L1562.7,202.8 L1566.5,201.6 L1570.4,200.5 L1574.2,199.3 L1578.0,198.2 L1581.8,197.1 L1585.7,196.0 L1589.5,195.0 L1593.4,193.9 L1597.3,192.9 L1601.1,191.9 L1605.0,190.9 L1608.9,190.0 L1612.8,189.0 L1616.6,188.1 L1620.5,187.1 L1624.4,186.2 L1628.3,185.3 L1632.2,184.4 L1636.1,183.5 L1640.0,182.6 L1643.9,181.7 L1647.9,180.9 L1651.8,180.0 L1655.7,179.1 L1659.6,178.3 L1663.5,177.4 L1667.4,176.6 L1671.4,175.7 L1675.3,174.9 L1679.2,174.0 L1683.1,173.1 L1687.0,172.3 L1690.9,171.4 L1694.8,170.6 L1698.7,169.7 L1702.7,168.8 L1706.6,167.9 L1710.5,167.0 L1714.4,166.1 L1718.3,165.2 L1722.1,164.3 L1726.0,163.4 L1729.9,162.4 L1733.8,161.5 L1737.7,160.5 L1741.5,159.5 L1745.4,158.5 L1749.3,157.5 L1753.1,156.5 L1757.0,155.4 L1760.8,154.4 L1764.6,153.3 L1768.4,152.2 L1772.3,151.0 L1776.0,149.8 L1779.8,148.6 L1783.6,147.4 L1787.3,146.0 L1791.0,144.7 L1794.7,143.3 L1798.3,141.8 L1801.9,140.2 L1805.5,138.6 L1809.1,136.9 L1812.6,135.1 L1816.0,133.3 L1819.4,131.3 L1822.8,129.3 L1826.1,127.1 L1829.3,124.9 L1832.5,122.5" stroke="#0000ff" stroke-width="7"/>
<path d="M1826.1,125.0 L1822.2,125.7 L1818.3,126.5 L1814.5,127.2 L1810.6,128.0 L1806.7,128.7 L1802.8,129.4 L1798.9,130.2 L1795.0,130.9 L1791.1,131.6 L1787.2,132.4 L1783.3,133.1 L1779.3,133.9 L1775.4,134.6 L1771.5,135.4 L1767.6,136.1 L1763.7,136.8 L1759.7,137.6 L1755.8,138.4 L1751.9,139.1 L1747.9,139.9 L1744.0,140.6 L1740.1,141.4 L1736.2,142.2 L1732.2,142.9 L1728.3,143.7 L1724.3,144.5 L1720.4,145.3 L1716.5,146.1 L1712.5,146.9 L1708.6,147.7 L1704.7,148.5 L1700.7,149.3 L1696.8,150.2 L1692.9,151.0 L1688.9,151.8 L1685.0,152.7 L1681.1,153.5 L1677.1,154.4 L1673.2,155.2 L1669.3,156.1 L1665.3,157.0 L1661.4,157.9 L1657.5,158.8 L1653.6,159.7 L1649.7,160.6 L1645.7,161.6 L1641.8,162.5 L1637.9,163.5 L1634.0,164.4 L1630.1,165.4 L1626.2,166.4 L1622.3,167.4 L1618.4,168.4 L1614.6,169.4 L1610.7,170.4 L1606.8,171.5 L1602.9,172.5 L1599.0,173.6 L1595.2,174.7 L1591.3,175.8 L1587.5,176.9 L1583.6,178.0 L1579.8,179.1 L1575.9,180.3 L1572.1,181.5 L1568.3,182.6 L1564.5,183.8 L1560.6,185.0 L1556.8,186.3 L1553.0,187.5 L1549.2,188.8 L1545.4,190.0 L1541.7,191.3 L1537.9,192.6 L1534.1,194.0 L1530.4,195.3 L1526.6,196.7 L1522.9,198.0 L1519.1,199.4 L1515.4,200.8 L1511.7,202.3 L1507.9,203.7 L1504.2,205.2 L1500.5,206.6 L1496.8,208.1 L1493.2,209.6 L1489.5,211.2 L1485.8,212.7 L1482.1,214.3 L1478.5,215.8 L1474.8,217.4 L1471.2,219.0 L1467.5,220.7 L1463.9,222.3 L1460.3,223.9 L1456.7,225.6 L1453.0,227.3 L1449.4,229.0 L1445.8,230.7 L1442.2,232.4 L1438.6,234.1 L1435.1,235.8 L1431.5,237.6 L1427.9,239.4 L1424.3,241.1 L1420.8,242.9 L1417.2,244.7 L1413.7,246.5 L1410.1,248.4 L1406.6,250.2 L1403.0,252.0 L1399.5,253.9 L1396.0,255.8 L1392.5,257.6 L1389.0,259.5 L1385.4,261.4 L1381.9,263.3 L1378.4,265.3 L1374.9,267.2 L1371.4,269.1 L1368.0,271.1 L1364.5,273.0 L1361.0,275.0 L1357.5,277.0 L1354.0,278.9 L1350.6,280.9 L1347.1,282.9 L1343.7,284.9 L1340.2,286.9 L1336.7,289.0 L1333.3,291.0 L1329.9,293.0 L1326.4,295.1 L1323.0,297.1 L1319.5,299.2 L1316.1,301.2 L1312.7,303.3 L1309.3,305.4 L1305.8,307.4 L1302.4,309.5 L1299.0,311.6 L1295.6,313.7 L1292.2,315.8 L1288.8,317.9 L1285.4,320.0 L1281.9,322.1 L1278.5,324.2 L1275.1,326.3 L1271.8,328.4 L1268.4,330.6 L1265.0,332.7 L1261.6,334.8 L1258.2,337.0 L1254.8,339.1 L1251.4,341.2 L1248.0,343.4 L1244.7,345.5 L1241.3,347.7 L1237.9,349.8 L1234.5,352.0 L1231.2,354.1 L1227.8,356.3 L1224.4,358.5 L1221.0,360.6 L1217.7,362.8 L1214.3,365.0 L1211.0,367.1 L1207.6,369.3 L1204.2,371.5 L1200.9,373.7 L1197.5,375.8 L1194.2,378.0 L1190.8,380.2 L1187.5,382.4 L1184.1,384.6 L1180.8,386.8 L1177.4,389.0 L1174.1,391.2 L1170.7,393.4 L1167.4,395.6 L1164.0,397.8 L1160.7,400.0 L1157.3,402.2 L1154.0,404.4 L1150.6,406.6 L1147.3,408.8 L1144.0,411.0 L1140.6,413.2 L1137.3,415.4 L1133.9,417.6 L1130.6,419.8 L1127.3,422.0 L1123.9,424.3 L1120.6,426.5 L1117.3,428.7 L1113.9,430.9 L1110.6,433.1 L1107.3,435.3 L1103.9,437.5 L1100.6,439.7 L1097.3,442.0 L1093.9,444.2 L1090.6,446.4 L1087.3,448.6 L1083.9,450.8 L1080.6,453.0 L1077.3,455.2 L1073.9,457.5 L1070.6,459.7 L1067.3,461.9 L1063.9,464.1 L1060.6,466.3 L1057.3,468.5 L1053.9,470.7 L1050.6,472.9 L1047.2,475.1 L1043.9,477.3 L1040.6,479.6 L1037.2,481.8 L1033.9,484.0 L1030.6,486.2 L1027.2,488.4 L1023.9,490.6 L1020.5,492.8 L1017.2,495.0 L1013.9,497.2 L1010.5,499.3 L1007.2,501.5 L1003.8,503.7 L1000.5,505.9 L997.1,508.1 L993.8,510.3 L990.4,512.5 L987.1,514.6 L983.7,516.8 L980.4,519.0 L977.0,521.2 L973.7,523.3 L970.3,525.5 L967.0,527.7 L963.6,529.8 L960.2,532.0 L956.9,534.2 L953.5,536.3 L950.2,538.5 L946.8,540.6 L943.4,542.8 L940.0,544.9 L936.7,547.0 L933.3,549.2 L929.9,551.3 L926.5,553.4 L923.2,555.6 L919.8,557.7 L916.4,559.8 L913.0,561.9 L909.6,564.0 L906.2,566.2 L902.9,568.3 L899.5,570.4 L896.1,572.5 L892.7,574.6 L889.3,576.6 L885.9,578.7 L882.5,580.8 L879.1,582.9 L875.6,585.0 L872.2,587.0 L868.8,589.1 L865.4,591.1 L862.0,593.2 L858.6,595.3 L855.1,597.3 L851.7,599.3 L848.3,601.4 L844.8,603.4 L841.4,605.4 L838.0,607.4 L834.5,609.5 L831.1,611.5 L827.6,613.5 L824.2,615.5 L820.7,617.5 L817.3,619.5 L813.8,621.4 L810.3,623.4 L806.9,625.4 L803.4,627.4 L799.9,629.3 L796.5,631.3 L793.0,633.3 L789.5,635.2 L786.0,637.2 L782.6,639.1 L779.1,641.1 L775.6,643.1 L772.1,645.0 L768.6,646.9 L765.1,648.9 L761.6,650.8 L758.1,652.8 L754.7,654.7 L751.2,656.7 L747.7,658.6 L744.2,660.5 L740.7,662.5 L737.2,664.4 L733.7,666.4 L730.2,668.3 L726.7,670.3 L723.2,672.2 L719.7,674.2 L716.2,676.1 L712.7,678.1 L709.2,680.0 L705.7,682.0 L702.2,683.9 L698.7,685.9 L695.2,687.8 L691.7,689.8 L688.2,691.8 L684.7,693.7 L681.2,695.7 L677.7,697.7 L674.2,699.7 L670.7,701.7 L667.2,703.7 L663.7,705.7 L660.2,707.7 L656.7,709.7 L653.2,711.7 L649.7,713.7 L646.3,715.8 L642.8,717.8 L639.3,719.8 L635.8,721.9 L632.4,723.9 L628.9,726.0 L625.4,728.1 L622.0,730.2 L618.6,732.3 L615.1,734.4 L611.7,736.6 L608.3,738.7 L604.9,740.9 L601.5,743.0 L598.1,745.2 L594.8,747.4 L591.4,749.7 L588.1,751.9 L584.8,754.2 L581.5,756.4 L578.2,758.7 L574.9,761.0 L571.7,763.4 L568.4,765.7 L565.2,768.1 L562.0,770.5 L558.8,773.0 L555.7,775.4 L552.5,777.9 L549.4,780.4 L546.3,782.9 L543.3,785.4 L540.2,788.0 L537.2,790.6 L534.2,793.2 L531.2,795.9 L528.3,798.6 L525.4,801.3 L522.5,804.1 L519.6,806.8 L516.8,809.6 L514.0,812.5 L511.3,815.3 L508.5,818.2 L505.8,821.2 L503.2,824.1 L500.5,827.1 L497.9,830.1 L495.4,833.1 L492.8,836.2 L490.3,839.3 L487.9,842.4 L485.5,845.6 L483.1,848.7 L480.8,851.9 L478.5,855.2 L476.2,858.4 L474.0,861.7 L471.8,865.0 L469.7,868.3 L467.6,871.7 L465.6,875.1 L463.6,878.5 L461.7,881.9 L459.7,885.4 L457.9,888.9 L456.0,892.4 L454.3,895.9 L452.5,899.5 L450.8,903.1 L449.1,906.7 L447.5,910.3 L445.9,913.9 L444.3,917.6 L442.8,921.3 L441.3,924.9 L439.9,928.7 L438.4,932.4 L437.1,936.1 L435.7,939.9 L434.4,943.7 L433.1,947.5 L431.8,951.3 L430.6,955.1 L429.4,958.9 L428.2,962.8 L427.1,966.6 L425.9,970.5 L424.8,974.4 L423.8,978.2 L422.7,982.1 L421.7,986.0 L420.7,990.0 L419.8,993.9 L418.8,997.8 L417.9,1001.8 L417.0,1005.7 L416.1,1009.7 L415.2,1013.6 L414.4,1017.6 L413.6,1021.5 L412.8,1025.5 L412.0,1029.5 L411.2,1033.4 L410.4,1037.4 L409.7,1041.4 L409.0,1045.4 L408.3,1049.4 L407.6,1053.3 L406.9,1057.3 L406.2,1061.3 L405.6,1065.3 L404.9,1069.2 L404.3,1073.2 L403.7,1077.2 L403.1,1081.1 L402.5,1085.1 L401.9,1089.0 L401.3,1093.0 L400.7,1096.9 L400.1,1100.9 L399.6,1104.8 L399.0,1108.8 L398.5,1112.7 L398.0,1116.7 L397.5,1120.6 L396.9,1124.6 L396.4,1128.5 L395.9,1132.5 L395.5,1136.4 L395.0,1140.4 L394.5,1144.3 L394.0,1148.2 L393.6,1152.2 L393.1,1156.2 L392.7,1160.1 L392.3,1164.1 L391.8,1168.0 L391.4,1172.0 L391.0,1175.9 L390.6,1179.9 L390.2,1183.9 L389.8,1187.9 L389.4,1191.8 L389.0,1195.8 L388.6,1199.8 L388.2,1203.8 L389.3,1199.8 L390.5,1195.9 L391.7,1192.1 L393.0,1188.2 L394.4,1184.4 L395.8,1180.6 L397.3,1176.9 L398.8,1173.2 L400.5,1169.6 L402.2,1165.9 L403.9,1162.4 L405.7,1158.8 L407.6,1155.3 L409.5,1151.8 L411.5,1148.4 L413.5,1145.0 L415.6,1141.6 L417.8,1138.3 L419.9,1135.0 L422.2,1131.7 L424.5,1128.5 L426.8,1125.3 L429.2,1122.2 L431.7,1119.0 L434.2,1115.9 L436.7,1112.9 L439.3,1109.9 L441.9,1106.9 L444.6,1103.9 L447.3,1101.0 L450.0,1098.1 L452.8,1095.3 L455.6,1092.5 L458.5,1089.7 L461.3,1086.9 L464.3,1084.2 L467.2,1081.5 L470.2,1078.9 L473.2,1076.3 L476.3,1073.7 L479.4,1071.1 L482.5,1068.6 L485.6,1066.1 L488.8,1063.6 L492.0,1061.2 L495.2,1058.8 L498.4,1056.5 L501.7,1054.2 L505.0,1051.9 L508.3,1049.6 L511.7,1047.4 L515.1,1045.3 L518.5,1043.1 L521.9,1041.1 L525.3,1039.0 L528.8,1037.0 L532.3,1035.1 L535.9,1033.2 L539.4,1031.3 L543.0,1029.5 L546.6,1027.8 L550.2,1026.1 L553.9,1024.4 L557.6,1022.8 L561.3,1021.3 L565.0,1019.8 L568.8,1018.3 L572.5,1016.9 L576.3,1015.6 L580.1,1014.3 L583.9,1013.1 L587.8,1011.9 L591.6,1010.9 L595.5,1009.8 L599.4,1008.8 L603.3,1007.9 L607.2,1007.1 L611.1,1006.3 L615.0,1005.6 L618.9,1004.9 L622.8,1004.4 L626.7,1003.9 L630.7,1003.4 L634.6,1003.0 L638.5,1002.7 L642.5,1002.5 L646.4,1002.3 L650.3,1002.1 L654.3,1002.0 L658.2,1001.9 L662.2,1001.8 L666.1,1001.7 L670.1,1001.6 L674.0,1001.5 L678.0,1001.5 L682.0,1001.3 L686.0,1001.2 L689.9,1001.0 L693.9,1000.8 L697.9,1000.6 L701.9,1000.3 L705.9,999.9 L709.9,999.5 L714.0,999.0 L718.0,998.5 L722.0,997.9 L726.0,997.2 L730.0,996.5 L734.1,995.7 L738.1,994.9 L742.1,994.0 L746.1,993.1 L750.0,992.1 L754.0,991.1 L758.0,990.1 L761.9,988.9 L765.9,987.8 L769.8,986.6 L773.7,985.4 L777.5,984.1 L781.4,982.8 L785.2,981.4 L789.0,980.0 L792.8,978.6 L796.5,977.2 L800.3,975.7 L804.0,974.1 L807.7,972.6 L811.3,971.0 L815.0,969.3 L818.6,967.7 L822.2,966.0 L825.7,964.3 L829.3,962.5 L832.8,960.7 L836.3,958.9 L839.8,957.0 L843.3,955.1 L846.7,953.2 L850.2,951.2 L853.6,949.3 L857.0,947.3 L860.3,945.2 L863.7,943.1 L867.0,941.1 L870.3,938.9 L873.6,936.8 L876.9,934.6 L880.1,932.4 L883.3,930.1 L886.6,927.9 L889.8,925.6 L892.9,923.3 L896.1,920.9 L899.2,918.6 L902.4,916.2 L905.5,913.8 L908.6,911.3 L911.6,908.9 L914.7,906.4 L917.7,903.9 L920.8,901.4 L923.8,898.8 L926.8,896.2 L929.7,893.7 L932.7,891.0 L935.6,888.4 L938.6,885.7 L941.5,883.1 L944.4,880.4 L947.3,877.7 L950.1,874.9 L953.0,872.2 L955.8,869.4 L958.7,866.6 L961.5,863.8 L964.3,861.0 L967.1,858.1 L969.9,855.3 L972.6,852.4 L975.4,849.5 L978.1,846.6 L980.8,843.7 L983.6,840.8 L986.3,837.8 L988.9,834.9 L991.6,831.9 L994.3,828.9 L996.9,825.9 L999.6,822.9 L1002.2,819.9 L1004.9,816.8 L1007.5,813.8 L1010.1,810.7 L1012.7,807.6 L1015.2,804.6 L1017.8,801.5 L1020.4,798.4 L1022.9,795.3 L1025.5,792.1 L1028.0,789.0 L1030.5,785.9 L1033.1,782.7 L1035.6,779.6 L1038.1,776.4 L1040.6,773.3 L1043.1,770.1 L1045.5,766.9 L1048.0,763.7 L1050.5,760.5 L1052.9,757.4 L1055.4,754.2 L1057.8,751.0 L1060.3,747.7 L1062.7,744.5 L1065.1,741.3 L1067.6,738.1 L1070.0,734.9 L1072.4,731.7 L1074.8,728.4 L1077.2,725.2 L1079.6,721.9 L1082.0,718.7 L1084.4,715.5 L1086.7,712.2 L1089.1,709.0 L1091.5,705.7 L1093.8,702.5 L1096.2,699.2 L1098.6,695.9 L1100.9,692.7 L1103.3,689.4 L1105.6,686.1 L1108.0,682.9 L1110.3,679.6 L1112.6,676.3 L1115.0,673.0 L1117.3,669.8 L1119.6,666.5 L1122.0,663.2 L1124.3,659.9 L1126.6,656.7 L1128.9,653.4 L1131.3,650.1 L1133.6,646.8 L1135.9,643.5 L1138.2,640.3 L1140.5,637.0 L1142.8,633.7 L1145.2,630.4 L1147.5,627.1 L1149.8,623.9 L1152.1,620.6 L1154.4,617.3 L1156.7,614.0 L1159.0,610.8 L1161.4,607.5 L1163.7,604.2 L1166.0,600.9 L1168.3,597.7 L1170.6,594.4 L1173.0,591.1 L1175.3,587.9 L1177.6,584.6 L1179.9,581.3 L1182.3,578.1 L1184.6,574.8 L1186.9,571.6 L1189.3,568.3 L1191.6,565.1 L1193.9,561.8 L1196.3,558.6 L1198.6,555.4 L1201.0,552.1 L1203.3,548.9 L1205.7,545.7 L1208.0,542.5 L1210.4,539.2 L1212.8,536.0 L1215.2,532.8 L1217.5,529.6 L1219.9,526.4 L1222.3,523.2 L1224.7,520.0 L1227.1,516.9 L1229.5,513.7 L1231.9,510.5 L1234.3,507.3 L1236.7,504.2 L1239.2,501.0 L1241.6,497.9 L1244.0,494.7 L1246.5,491.6 L1248.9,488.4 L1251.4,485.3 L1253.9,482.2 L1256.3,479.1 L1258.8,476.0 L1261.3,472.9 L1263.8,469.8 L1266.3,466.7 L1268.8,463.6 L1271.3,460.5 L1273.9,457.5 L1276.4,454.4 L1278.9,451.4 L1281.5,448.3 L1284.1,445.3 L1286.6,442.3 L1289.2,439.3 L1291.8,436.2 L1294.4,433.2 L1297.0,430.3 L1299.6,427.3 L1302.3,424.3 L1304.9,421.3 L1307.5,418.4 L1310.2,415.4 L1312.9,412.5 L1315.6,409.6 L1318.3,406.7 L1321.0,403.8 L1323.7,400.9 L1326.4,398.0 L1329.1,395.1 L1331.9,392.2 L1334.7,389.4 L1337.4,386.5 L1340.2,383.7 L1343.0,380.9 L1345.8,378.1 L1348.7,375.3 L1351.5,372.5 L1354.3,369.7 L1357.2,367.0 L1360.1,364.2 L1363.0,361.5 L1365.9,358.7 L1368.8,356.0 L1371.7,353.3 L1374.7,350.6 L1377.7,348.0 L1380.6,345.3 L1383.6,342.6 L1386.6,340.0 L1389.6,337.4 L1392.7,334.8 L1395.7,332.2 L1398.8,329.6 L1401.8,327.0 L1404.9,324.5 L1408.0,321.9 L1411.1,319.4 L1414.2,316.9 L1417.4,314.4 L1420.5,311.9 L1423.7,309.4 L1426.8,307.0 L1430.0,304.6 L1433.2,302.1 L1436.4,299.7 L1439.7,297.3 L1442.9,295.0 L1446.1,292.6 L1449.4,290.3 L1452.7,288.0 L1456.0,285.7 L1459.2,283.4 L1462.6,281.1 L1465.9,278.8 L1469.2,276.6 L1472.5,274.4 L1475.9,272.2 L1479.3,270.0 L1482.6,267.8 L1486.0,265.7 L1489.4,263.6 L1492.9,261.5 L1496.3,259.4 L1499.7,257.3 L1503.2,255.3 L1506.6,253.2 L1510.1,251.2 L1513.6,249.2 L1517.1,247.3 L1520.6,245.3 L1524.1,243.4 L1527.6,241.5 L1531.1,239.6 L1534.7,237.7 L1538.2,235.8 L1541.8,234.0 L1545.4,232.2 L1549.0,230.4 L1552.6,228.7 L1556.2,226.9 L1559.8,225.2 L1563.4,223.5 L1567.0,221.8 L1570.7,220.2 L1574.3,218.5 L1578.0,216.9 L1581.7,215.4 L1585.4,213.8 L1589.1,212.3 L1592.8,210.7 L1596.5,209.2 L1600.2,207.8 L1604.0,206.3 L1607.7,204.9 L1611.5,203.5 L1615.2,202.1 L1619.0,200.8 L1622.8,199.5 L1626.6,198.2 L1630.4,196.9 L1634.2,195.7 L1638.0,194.4 L1641.8,193.2 L1645.7,192.1 L1649.5,190.9 L1653.4,189.8 L1657.2,188.7 L1661.1,187.7 L1665.0,186.6 L1668.9,185.6 L1672.8,184.6 L1676.6,183.6 L1680.5,182.7 L1684.5,181.7 L1688.4,180.8 L1692.3,179.8 L1696.2,178.9 L1700.1,178.0 L1704.0,177.0 L1707.9,176.1 L1711.8,175.2 L1715.7,174.3 L1719.6,173.3 L1723.5,172.4 L1727.4,171.4 L1731.3,170.4 L1735.1,169.4 L1739.0,168.4 L1742.8,167.3 L1746.7,166.3 L1750.5,165.2 L1754.3,164.1 L1758.1,162.9 L1761.9,161.7 L1765.7,160.5 L1769.4,159.2 L1773.2,157.9 L1776.9,156.5 L1780.6,155.1 L1784.3,153.7 L1787.9,152.2 L1791.6,150.6 L1795.2,149.0 L1798.8,147.3 L1802.4,145.6 L1805.9,143.8 L1809.4,142.0 L1812.9,140.0 L1816.3,138.0 L1819.7,135.9 L1823.0,133.7 L1826.3,131.4 L1829.4,129.0 L1832.5,126.5" stroke="#ff00ff" stroke-width="7"/>
</g>
<g fill="#000" shape-rendering="crispEdges">
<rect x="253" y="29" width="5" height="1379"/>
<rect x="228" y="1391" width="1735" height="6"/>
<rect x="384" y="1397" width="6" height="24"/>
<rect x="515" y="1397" width="6" height="11"/>
<rect x="646" y="1397" width="6" height="24"/>
<rect x="777" y="1397" width="6" height="11"/>
<rect x="908" y="1397" width="6" height="24"/>
<rect x="1039" y="1397" width="6" height="11"/>
<rect x="1170" y="1397" width="6" height="24"/>
<rect x="1301" y="1397" width="6" height="11"/>
<rect x="1433" y="1397" width="6" height="24"/>
<rect x="1564" y="1397" width="6" height="11"/>
<rect x="1695" y="1397" width="6" height="24"/>
<rect x="1826" y="1397" width="6" height="11"/>
<rect x="1957" y="1397" width="6" height="24"/>
<rect x="242" y="29" width="11" height="6"/>
<rect x="228" y="134" width="25" height="6"/>
<rect x="242" y="239" width="11" height="6"/>
<rect x="228" y="343" width="25" height="6"/>
<rect x="242" y="448" width="11" height="6"/>
<rect x="228" y="553" width="25" height="6"/>
<rect x="242" y="658" width="11" height="6"/>
<rect x="228" y="762" width="25" height="6"/>
<rect x="242" y="867" width="11" height="6"/>
<rect x="228" y="972" width="25" height="6"/>
<rect x="242" y="1077" width="11" height="6"/>
<rect x="228" y="1181" width="25" height="6"/>
<rect x="242" y="1286" width="11" height="6"/>
</g>
<g class="tk" text-anchor="middle">
<text x="386.6" y="1481">-0.6</text>
<text x="648.8" y="1481">-0.4</text>
<text x="911.1" y="1481">-0.2</text>
<text x="1173.3" y="1481">0.0</text>
<text x="1435.5" y="1481">0.2</text>
<text x="1697.8" y="1481">0.4</text>
<text x="1960.0" y="1481">0.6</text>
</g>
<g class="tk" text-anchor="end">
<text x="210.5" y="153.3">0</text>
<text x="210.5" y="362.8">-1</text>
<text x="210.5" y="572.3">-2</text>
<text x="210.5" y="781.9">-3</text>
<text x="210.5" y="991.4">-4</text>
<text x="210.5" y="1201.0">-5</text>
<text x="210.5" y="1410.5">-6</text>
</g>
<text class="tt" text-anchor="middle" x="1108.5" y="1581">E, V (vs. Ag|Ag+)</text>
<g transform="translate(78,771.0) rotate(-90)">
<text class="tt" x="0" y="0">I</text>
<text class="tt" x="17.2" y="0">,</text>
<text class="tt mu" transform="translate(53.0,0) scale(1.1,1)" style="font-size:59.6px">μ</text>
<text class="tt" x="87.2" y="0">A</text>
</g>
<g shape-rendering="crispEdges">
<rect x="1211" y="885.0" width="148" height="7" fill="#000000"/>
<rect x="1211" y="966.0" width="148" height="7" fill="#ff0000"/>
<rect x="1211" y="1048.0" width="148" height="7" fill="#0000ff"/>
<rect x="1211" y="1129.0" width="148" height="7" fill="#ff00ff"/>
</g>
<text class="lg" x="1375.5" y="910.0">bgr</text>
<text class="lg" x="1375.5" y="991.0"> 75</text>
<text class="lg mu" transform="translate(1484.5,991.0) scale(1.1,1)" style="font-size:59.6px">μ</text>
<text class="lg" x="1519.3" y="991.0" style="letter-spacing:-0.6px">M BPO</text>
<text class="lg" x="1375.5" y="1073.0">150</text>
<text class="lg mu" transform="translate(1504.2,1073.0) scale(1.1,1)" style="font-size:59.6px">μ</text>
<text class="lg" x="1536.7" y="1073.0" style="letter-spacing:-0.6px">M BPO</text>
<text class="lg" x="1375.5" y="1154.0">225</text>
<text class="lg mu" transform="translate(1504.2,1154.0) scale(1.1,1)" style="font-size:59.6px">μ</text>
<text class="lg" x="1536.7" y="1154.0" style="letter-spacing:-0.6px">M BPO</text>
</svg></body></html>
